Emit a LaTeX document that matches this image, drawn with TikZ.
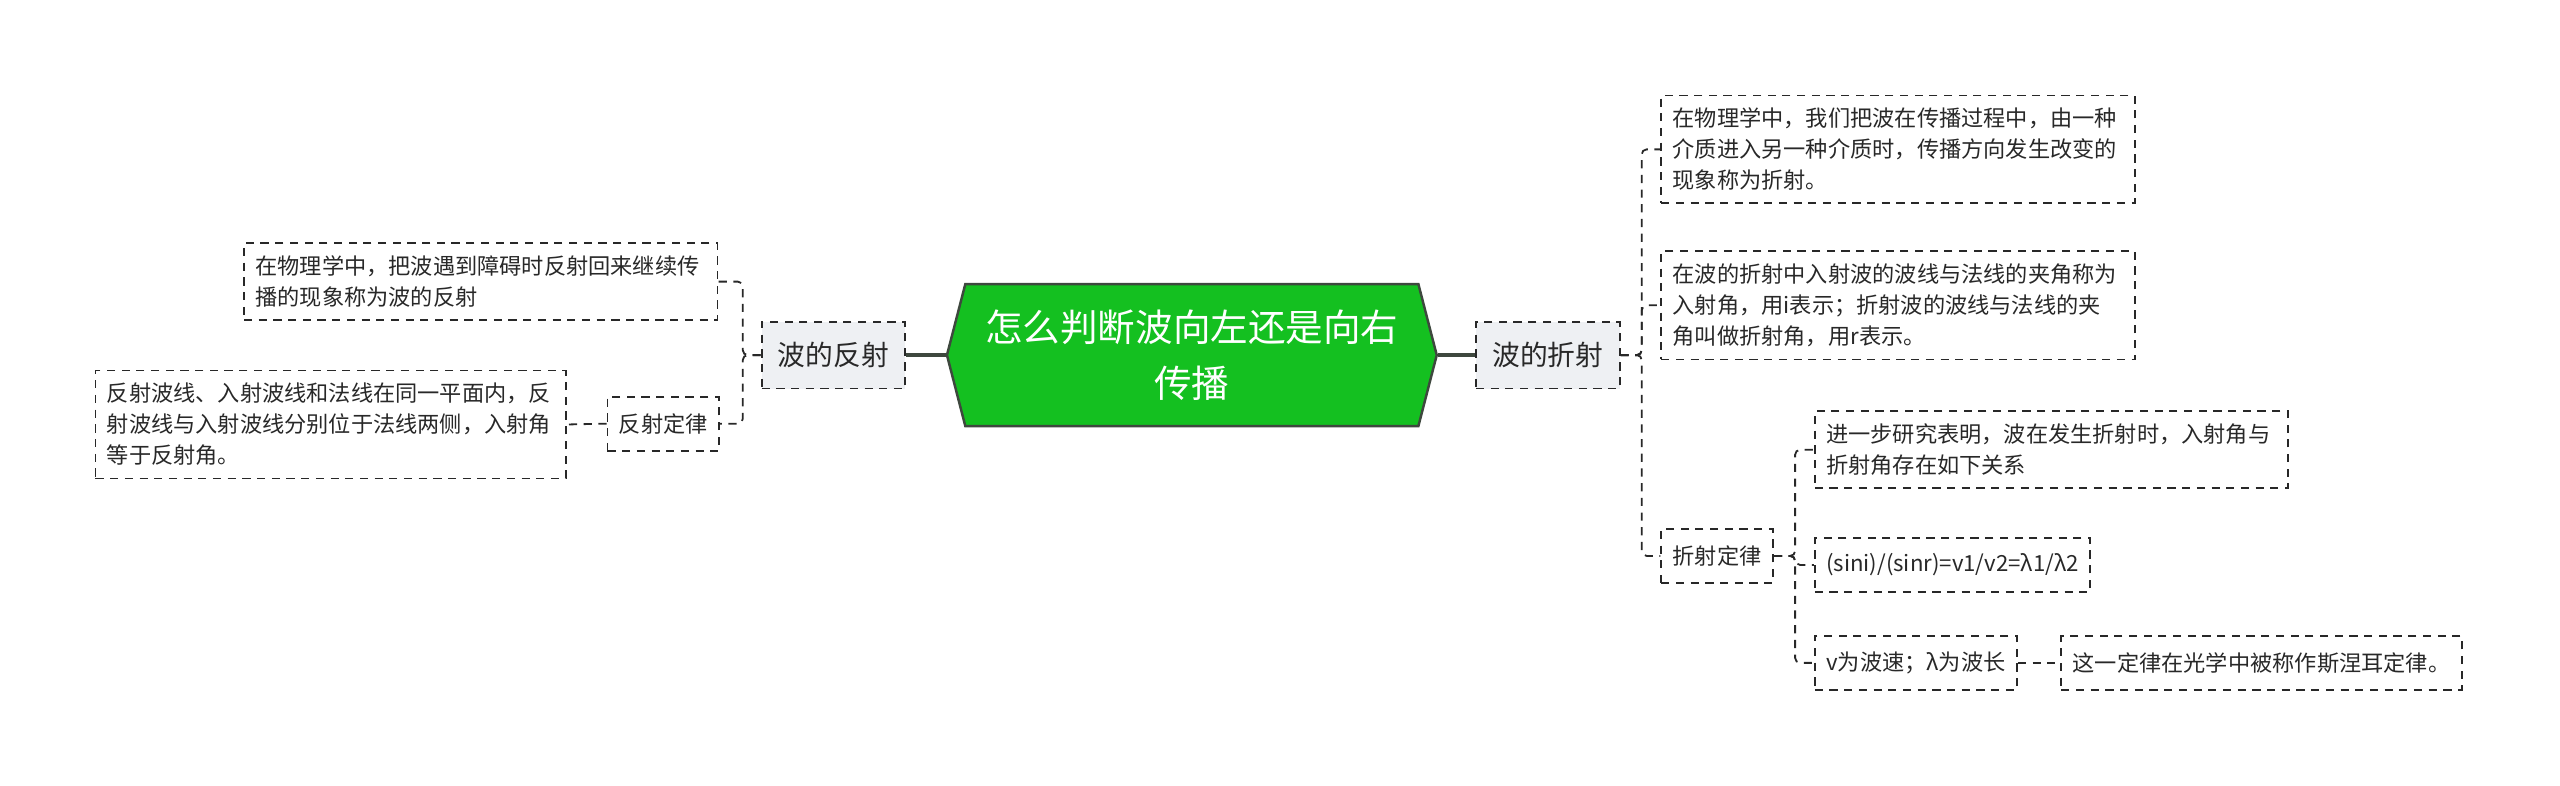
\documentclass[tikz,border=0pt]{standalone}
\usepackage{fontspec}
\setmainfont{Noto Sans CJK SC}
\usepackage{tikz}
\usetikzlibrary{shapes.symbols}
\definecolor{rootgreen}{RGB}{20,192,32}
\definecolor{rootedge}{RGB}{62,72,62}
\definecolor{topicgray}{RGB}{238,240,243}
\definecolor{inkgray}{RGB}{40,40,40}
\tikzset{
  root/.style={signal, signal to=west and east, signal pointer angle=151, draw=rootedge, line width=1.5pt, fill=rootgreen, text=white, align=center, minimum width=300pt, minimum height=87pt, font=\fontsize{23}{34}\selectfont},
  topic/.style={draw=inkgray, dash pattern=on 5pt off 4pt, line width=1.1pt, fill=topicgray, text=inkgray, inner xsep=10pt, minimum height=41pt, font=\fontsize{17}{20}\selectfont},
  leaf/.style={draw=inkgray, dash pattern=on 5pt off 4pt, line width=1.1pt, text=inkgray, align=left, inner xsep=7pt, inner ysep=7.7pt, minimum height=33pt, font=\fontsize{13.6}{19}\selectfont},
  link/.style={draw=inkgray, dash pattern=on 5pt off 4pt, line width=1.1pt, rounded corners=3pt},
  trunk/.style={draw=rootedge, line width=2.2pt}
}
\newcommand{\wvtopicnode}[3] {\node at (#1) (#2) [topic] {#3};}
\newcommand{\wvleafnode}[4] {\node at (#1) (#2) [leaf, #3] {#4};}
\newcommand{\wvbranch}[3] {\draw [link] (#1) -- ++(#3,0) |- (#2);}

\begin{document}
\begin{tikzpicture}[x=1pt, y=-1pt]
\useasboundingbox (0,0) rectangle (1568,481);

\node at (730,217.5) (root) [root] {怎么判断波向左还是向右\\传播};

\wvtopicnode {510.5,217.5} {fs} {波的反射};
\wvtopicnode {948,217.5} {zs} {波的折射};

\wvleafnode {440,172.5} {fsdef} {anchor=east, text width=276pt} {在物理学中，把波遇到障碍时反射回来继续传\\播的现象称为波的反射};
\wvleafnode {441,259.5} {fslaw} {anchor=east} {反射定律};
\wvleafnode {347,260} {fslawtext} {anchor=east, text width=274pt} {反射波线、入射波线和法线在同一平面内，反\\射波线与入射波线分别位于法线两侧，入射角\\等于反射角。};

\wvleafnode {1017,91.5} {zsdef} {anchor=west, text width=276pt} {在物理学中，我们把波在传播过程中，由一种\\介质进入另一种介质时，传播方向发生改变的\\现象称为折射。};
\wvleafnode {1017,187} {zsangle} {anchor=west, text width=276pt} {在波的折射中入射波的波线与法线的夹角称为\\入射角，用i表示；折射波的波线与法线的夹\\角叫做折射角，用r表示。};
\wvleafnode {1017,340.5} {zslaw} {anchor=west} {折射定律};
\wvleafnode {1111,275.5} {zsstudy} {anchor=west, text width=276pt} {进一步研究表明，波在发生折射时，入射角与\\折射角存在如下关系};
\wvleafnode {1111,346} {zsformula} {anchor=west} {(sini)/(sinr)=v1/v2=λ1/λ2};
\wvleafnode {1111,406} {zssymbol} {anchor=west} {v为波速；λ为波长};
\wvleafnode {1262,406} {zssnell} {anchor=west} {这一定律在光学中被称作斯涅耳定律。};

% trunk
\draw [trunk] (root.west) -- (fs.east);
\draw [trunk] (root.east) -- (zs.west);

% reflection side
\wvbranch {fs.west}{fsdef.east}{-11};
\wvbranch {fs.west}{fslaw.east}{-11};
\draw [link] (fslaw.west) -- (fslawtext.east);

% refraction side
\wvbranch {zs.east}{zsdef.west}{13};
\wvbranch {zs.east}{zsangle.west}{13};
\wvbranch {zs.east}{zslaw.west}{13};
\wvbranch {zslaw.east}{zsstudy.west}{13};
\wvbranch {zslaw.east}{zsformula.west}{13};
\wvbranch {zslaw.east}{zssymbol.west}{13};
\draw [link] (zssymbol.east) -- (zssnell.west);
\end{tikzpicture}
\end{document}
